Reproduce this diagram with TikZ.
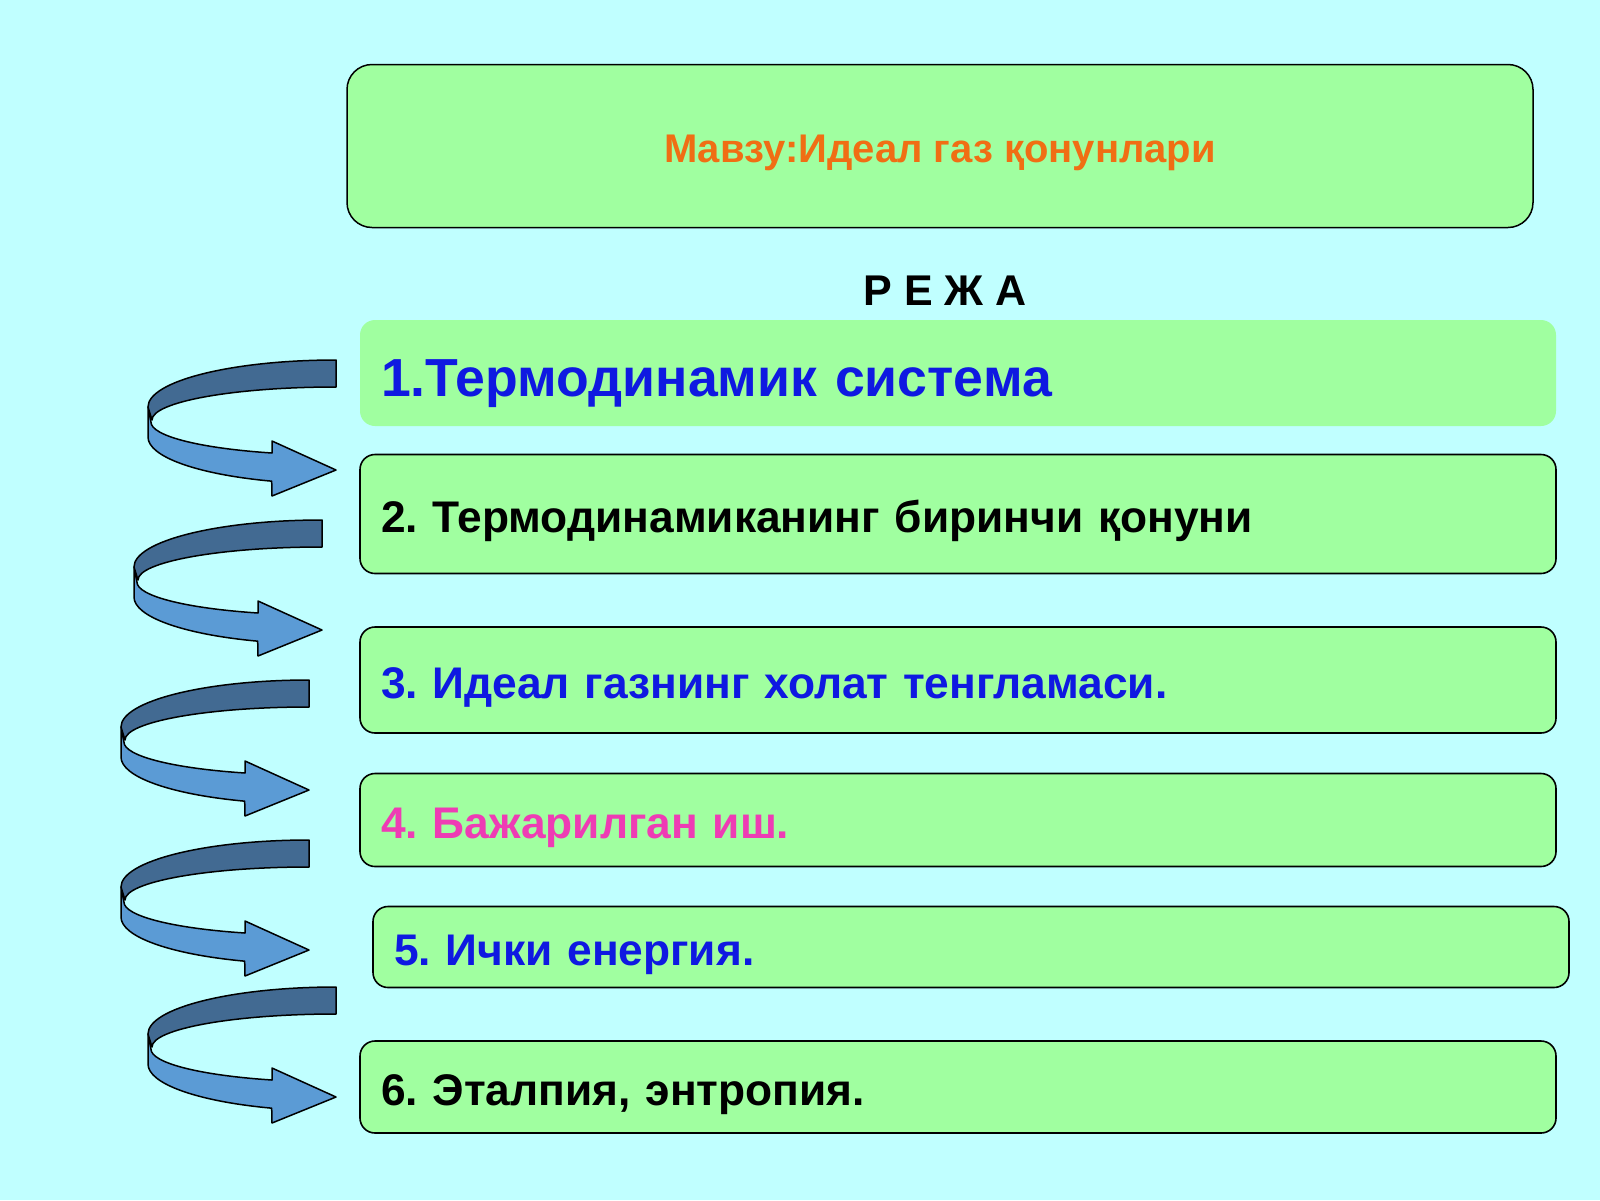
\documentclass[tikz,border=0pt]{standalone}
\usepackage{fontspec}
\setmainfont{Liberation Sans}
\frenchspacing
\usetikzlibrary{positioning}

\definecolor{bgcyan}{RGB}{192,255,255}
\definecolor{boxgreen}{RGB}{160,255,160}
\definecolor{titleorange}{RGB}{240,110,20}
\definecolor{itemblue}{RGB}{15,25,225}
\definecolor{itempink}{RGB}{238,60,180}
\definecolor{banddark}{RGB}{66,106,146}
\definecolor{bandlight}{RGB}{91,155,213}

\tikzset{
    itembox/.style={draw=black, line width=1.6pt, fill=boxgreen, rounded corners=15pt,
        minimum width=1196pt, text width=1154pt, inner xsep=21pt, align=left,
        text height=37pt, text depth=0pt,
        font=\fontsize{44.3}{52}\selectfont\bfseries\frenchspacing},
    lightband/.style={draw=black, line width=1.5pt, fill=bandlight, line join=round},
    darkband/.style={draw=black, line width=1.5pt, fill=banddark, line join=round}
}

\begin{document}
\begin{tikzpicture}[x=1pt, y=-1pt]
    % Background
    \fill[bgcyan] (0,0) rectangle (1600,1200);
    \useasboundingbox (0,0) rectangle (1600,1200);

    % Title box
    \node[draw=black, line width=1.5pt, fill=boxgreen, rounded corners=25pt,
        minimum width=1186pt, minimum height=163pt, text=titleorange,
        text height=33pt, text depth=0pt,
        font=\fontsize{40}{48}\selectfont\bfseries] (title) at (940,146) {Мавзу:Идеал газ қонунлари};

    % Plan heading
    \node[font=\fontsize{43}{50}\selectfont\bfseries] (reja) at (945,291) {Р Е Ж А};

    % Plan items
    \node[itembox, draw=none, minimum height=106pt, text=itemblue, text height=46pt,
        font=\fontsize{53.6}{62}\selectfont\bfseries] (item1) at (958,373) {1.Термодинамик система};
    \node[itembox, minimum height=119pt] (item2) at (958,514) {2. Термодинамиканинг биринчи қонуни};
    \node[itembox, minimum height=106pt, text=itemblue] (item3) at (958,680) {3. Идеал газнинг холат тенгламаси.};
    \node[itembox, minimum height=93pt, text=itempink] (item4) at (958,820) {4. Бажарилган иш.};
    \node[itembox, minimum height=81pt, text=itemblue] (item5) at (971,947) {5. Ички енергия.};
    \node[itembox, minimum height=92pt] (item6) at (958,1087) {6. Эталпия, энтропия.};

    % Curved arrows (right end x, top y)
    \foreach \R/\T in {336/360, 322/520, 309/680, 309/840, 336/987}{
        % lower band with head
        \draw[lightband] ({\R-188},{\T+47}) -- ({\R-188},{\T+77})
            arc[start angle=180, end angle=110, x radius=188, y radius=47]
            -- ({\R-64},{\T+136}) -- (\R,{\T+110}) -- ({\R-64},{\T+81}) -- ({\R-64},{\T+93})
            arc[start angle=110, end angle=180, x radius=184, y radius=33] -- cycle;
        % upper band
        \draw[darkband] (\R,\T) arc[start angle=270, end angle=180, x radius=188, y radius=47]
            -- ({\R-184},{\T+60})
            arc[start angle=180, end angle=270, x radius=184, y radius=33] -- cycle;
    }
\end{tikzpicture}
\end{document}
